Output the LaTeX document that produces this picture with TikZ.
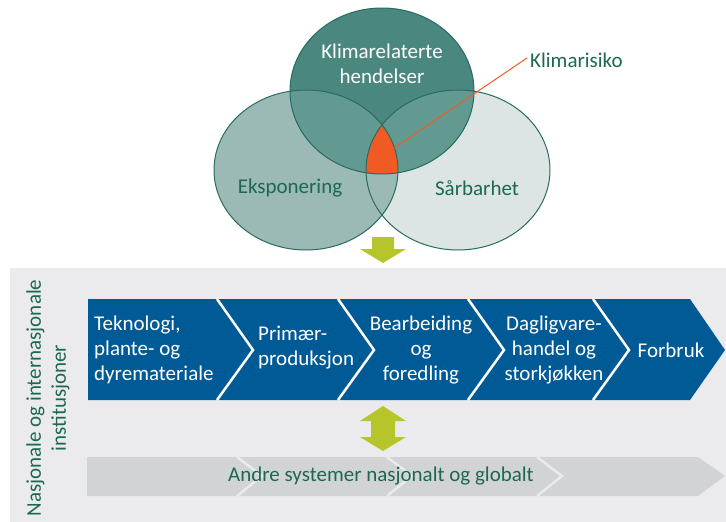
\documentclass[tikz,border=0pt]{standalone}
\usepackage{fontspec}
\setmainfont{Carlito}
\usepackage{xcolor}
\usepackage{tikz}
\usetikzlibrary{calc, positioning}
\definecolor{venntop}{RGB}{74, 136, 127}
\definecolor{vennleft}{RGB}{155, 186, 181}
\definecolor{vennright}{RGB}{220, 229, 227}
\definecolor{vennmid}{RGB}{98, 154, 145}
\definecolor{venndark}{RGB}{40, 108, 96}
\definecolor{riskorange}{RGB}{241, 90, 34}
\definecolor{textgreen}{RGB}{28, 104, 84}
\definecolor{chainblue}{RGB}{0, 90, 150}
\definecolor{limegreen}{RGB}{182, 198, 42}
\definecolor{bggray}{RGB}{235, 235, 237}
\definecolor{othergray}{RGB}{210, 211, 213}
\tikzset{
    textnode/.style  = {draw=none, fill=none, rectangle, inner sep = 0em, 
      font=\fontsize{21}{25}\selectfont, align=center},
    whitenode/.style = {textnode, text=white},
    greennode/.style = {textnode, text=textgreen},
    vennline/.style = {draw=venndark, line width=1pt},
    chainline/.style = {draw=white, line width=2.5pt, line join=miter},
    otherline/.style = {draw=bggray, line width=2.5pt, line join=miter},
    riskline/.style = {draw=riskorange, line width=1pt},
    blockarrow/.style = {fill=limegreen}
}

\begin{document}
\begin{tikzpicture}[x=1pt, y=-1pt]
\useasboundingbox (0,0) rectangle (726,522);

% venn
\coordinate (topc) at (382,91);
\coordinate (leftc) at (306,170);
\coordinate (rightc) at (458,170);
\fill[vennright] (rightc) ellipse [x radius=92, y radius=80];
\fill[vennleft] (leftc) ellipse [x radius=92, y radius=80];
\fill[venntop] (topc) ellipse [x radius=92, y radius=83];
\begin{scope}
  \clip (topc) ellipse [x radius=92, y radius=83];
  \fill[vennmid] (leftc) ellipse [x radius=92, y radius=80];
  \fill[vennmid] (rightc) ellipse [x radius=92, y radius=80];
  \begin{scope}
    \clip (leftc) ellipse [x radius=92, y radius=80];
    \fill[riskorange] (rightc) ellipse [x radius=92, y radius=80];
  \end{scope}
\end{scope}
\draw[vennline] (rightc) ellipse [x radius=92, y radius=80];
\draw[vennline] (leftc) ellipse [x radius=92, y radius=80];
\draw[vennline] (topc) ellipse [x radius=92, y radius=83];

\node [whitenode, name=hendelser] at (382,64) {Klimarelaterte\\hendelser};
\node [greennode, name=eksponering] at (290,188) {Eksponering};
\node [greennode, name=sarbarhet] at (477,188) {Sårbarhet};
\node [greennode, name=klimarisiko, anchor=west] at (530,60) {Klimarisiko};
\coordinate (risk) at (394,148);
\draw[riskline] (risk) -- ($(klimarisiko.west)+(-3,-2)$);

% pil ned
\coordinate (downarrow) at (383,237);
\fill[blockarrow] (downarrow) ++(-11,0) -- ++(22,0) -- ++(0,12) -- ++(12,0) 
    -- ++(-23,14) -- ++(-23,-14) -- ++(12,0) -- cycle;

% bakgrunn
\fill[bggray] (10,268) rectangle (726,522);
\node [greennode, name=institusjoner, rotate=90] at (48,398) 
    {Nasjonale og internasjonale\\institusjoner};

% verdikjede
\fill[chainblue] (88,299) -- (690,299) -- (725,350) -- (690,400) -- (88,400) -- cycle;
\foreach \x in {217, 338, 468, 593}
  \draw[chainline] (\x,299) -- ++(36,51) -- ++(-36,50);

\node [whitenode, name=teknologi, anchor=west, align=left] at (94,350) 
    {Teknologi,\\plante- og\\dyremateriale};
\node [whitenode, name=primar, anchor=west, align=left] at (258,348) {Primær-\\produksjon};
\node [whitenode, name=bearbeiding] at (421,350) {Bearbeiding\\og\\foredling};
\node [whitenode, name=dagligvare] at (554,350) {Dagligvare-\\handel og\\storkjøkken};
\node [whitenode, name=forbruk] at (671,350) {Forbruk};

% dobbelpil
\coordinate (doublearrow) at (383,406);
\fill[blockarrow] (doublearrow) -- ++(23,15) -- ++(-11,0) -- ++(0,16) -- ++(11,0) 
    -- ++(-23,14) -- ++(-23,-14) -- ++(11,0) -- ++(0,-16) -- ++(-11,0) -- cycle;

% andre systemer
\fill[othergray] (87,457) -- (698,457) -- (725,476) -- (698,496) -- (87,496) -- cycle;
\foreach \x in {237, 387, 537}
  \draw[otherline] (\x,457) -- ++(25,19) -- ++(-25,20);
\node [greennode, name=andre] at (381,476) {Andre systemer nasjonalt og globalt};
\end{tikzpicture}
\end{document}
